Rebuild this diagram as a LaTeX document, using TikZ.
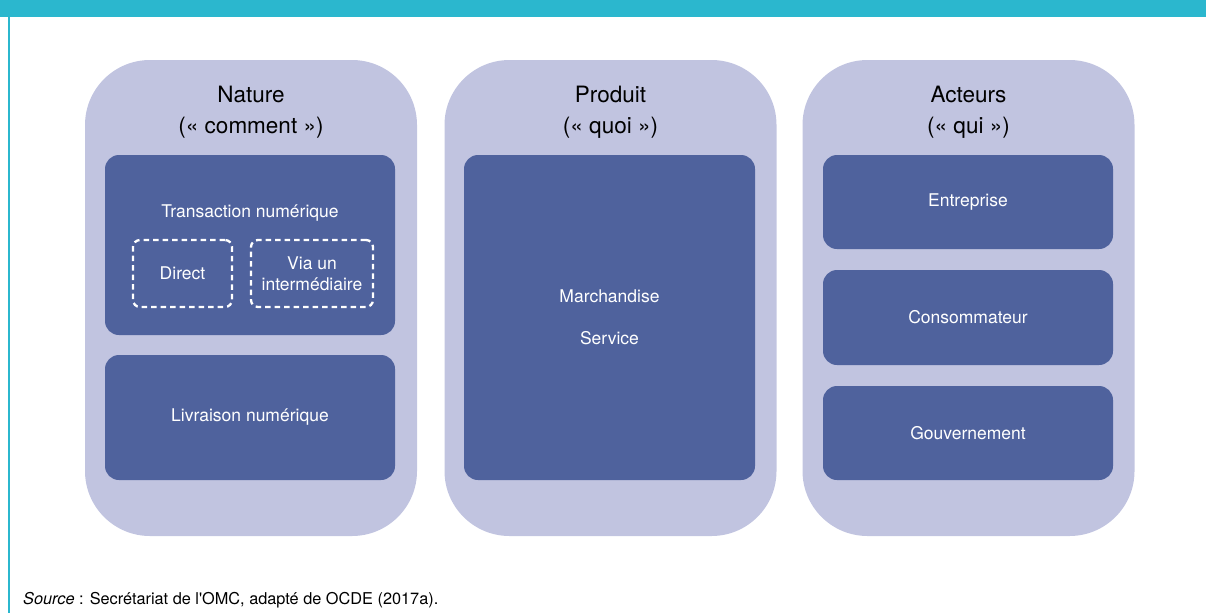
\documentclass[tikz,border=0pt]{standalone}
\usepackage{fontspec}
\setmainfont{TeX Gyre Heros}
\definecolor{bandeau}{RGB}{43,183,206}
\definecolor{lavande}{RGB}{193,196,224}
\definecolor{bleufonce}{RGB}{79,98,157}
\begin{document}
\begin{tikzpicture}[x=1pt,y=-1pt,
    colonne/.style={fill=lavande,rounded corners=65pt,minimum width=332pt,minimum height=476pt,inner sep=0pt},
    titre/.style={align=center,font=\fontsize{22.5}{31}\selectfont},
    bloc/.style={fill=bleufonce,rounded corners=14pt,minimum width=290pt,inner sep=0pt,text=white,align=center,font=\fontsize{17.5}{21.5}\selectfont},
    etiq/.style={text=white,align=center,font=\fontsize{17.5}{21.5}\selectfont},
    tirets/.style={draw=white,line width=2.3pt,dash pattern=on 5.5pt off 4pt,rounded corners=7pt,inner sep=0pt,minimum height=67pt,text=white,align=center,font=\fontsize{17.5}{21.5}\selectfont}]
    \useasboundingbox (0,0) rectangle (1206,613);
    \fill[bandeau] (0,0) rectangle (1206,17);
    \draw[bandeau,line width=1.5pt] (9,17) -- (9,613);

    % les trois colonnes
    \node[colonne] (nature) at (251,298) {};
    \node[colonne] (produit) at (610.5,298) {};
    \node[colonne] (acteurs) at (968.5,298) {};
    \node[titre] (tnature) at (251,112) {Nature\\(«~comment~»)};
    \node[titre] (tproduit) at (610.5,112) {Produit\\(«~quoi~»)};
    \node[titre] (tacteurs) at (968.5,112) {Acteurs\\(«~qui~»)};

    % nature
    \node[bloc,minimum height=180pt] (transaction) at (250,245) {};
    \node[etiq] (ltransaction) at (250,213) {Transaction numérique};
    \node[tirets,minimum width=99pt] (direct) at (182.5,273.5) {Direct};
    \node[tirets,minimum width=122pt] (via) at (312,273.5) {Via un\\intermédiaire};
    \node[bloc,minimum height=125pt] (livraison) at (250,417.5) {Livraison numérique};

    % produit
    \node[bloc,minimum width=291pt,minimum height=325pt,font=\fontsize{17.5}{42}\selectfont] (marchandise) at (609.5,317.5) {Marchandise\\Service};

    % acteurs
    \node[bloc,minimum height=94pt] (entreprise) at (968,202) {Entreprise};
    \node[bloc,minimum height=95pt] (consommateur) at (968,317.5) {Consommateur};
    \node[bloc,minimum height=94pt] (gouvernement) at (968,433) {Gouvernement};

    \node[anchor=west,font=\fontsize{16.3}{20}\selectfont,inner sep=0pt] (source) at (23,600) {\textit{Source} : Secrétariat de l\textquotesingle OMC, adapté de OCDE (2017a).};
\end{tikzpicture}
\end{document}
